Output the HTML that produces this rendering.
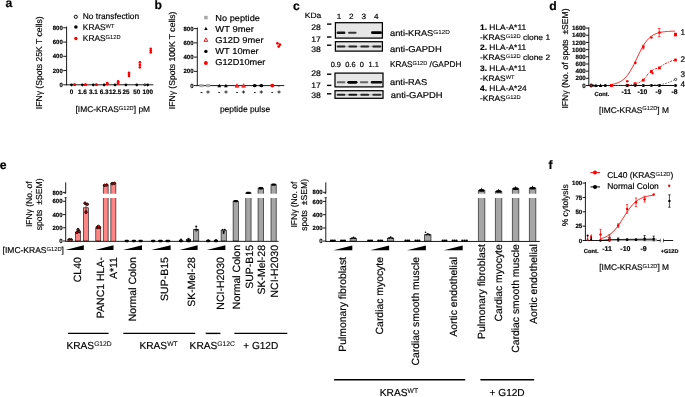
<!DOCTYPE html>
<html lang="en"><head><meta charset="utf-8"><title>Figure</title>
<style>
html,body{margin:0;padding:0;background:#fff;}
body{width:685px;height:397px;overflow:hidden;}
svg{display:block;font-family:'Liberation Sans', Arial, sans-serif;}
text{stroke:#000;stroke-width:0.18px;}
</style></head><body>
<svg width="685" height="397" viewBox="0 0 685 397" text-rendering="geometricPrecision" style="opacity:0.999">
<text x="5.60" y="7.20" font-size="12.2" font-weight="bold" text-anchor="start" fill="#000" xml:space="preserve">a</text>
<text x="154.50" y="9.30" font-size="12.2" font-weight="bold" text-anchor="start" fill="#000" xml:space="preserve">b</text>
<text x="293.00" y="10.30" font-size="12.2" font-weight="bold" text-anchor="start" fill="#000" xml:space="preserve">c</text>
<text x="549.30" y="10.40" font-size="12.2" font-weight="bold" text-anchor="start" fill="#000" xml:space="preserve">d</text>
<text x="-0.30" y="169.00" font-size="12.2" font-weight="bold" text-anchor="start" fill="#000" xml:space="preserve">e</text>
<text x="548.60" y="169.00" font-size="12.2" font-weight="bold" text-anchor="start" fill="#000" xml:space="preserve">f</text>
<line x1="66.60" y1="26.50" x2="66.60" y2="85.20" stroke="#000" stroke-width="0.9"/>
<line x1="66.20" y1="84.80" x2="153.40" y2="84.80" stroke="#000" stroke-width="0.9"/>
<line x1="63.20" y1="84.80" x2="66.60" y2="84.80" stroke="#000" stroke-width="0.9"/>
<text x="62.80" y="86.90" font-size="6.0" font-weight="bold" text-anchor="end" fill="#000" xml:space="preserve" stroke-width="0.3">0</text>
<line x1="63.20" y1="70.55" x2="66.60" y2="70.55" stroke="#000" stroke-width="0.9"/>
<text x="62.80" y="72.65" font-size="6.0" font-weight="bold" text-anchor="end" fill="#000" xml:space="preserve" stroke-width="0.3">200</text>
<line x1="63.20" y1="56.30" x2="66.60" y2="56.30" stroke="#000" stroke-width="0.9"/>
<text x="62.80" y="58.40" font-size="6.0" font-weight="bold" text-anchor="end" fill="#000" xml:space="preserve" stroke-width="0.3">400</text>
<line x1="63.20" y1="42.05" x2="66.60" y2="42.05" stroke="#000" stroke-width="0.9"/>
<text x="62.80" y="44.15" font-size="6.0" font-weight="bold" text-anchor="end" fill="#000" xml:space="preserve" stroke-width="0.3">600</text>
<line x1="63.20" y1="27.80" x2="66.60" y2="27.80" stroke="#000" stroke-width="0.9"/>
<text x="62.80" y="29.90" font-size="6.0" font-weight="bold" text-anchor="end" fill="#000" xml:space="preserve" stroke-width="0.3">800</text>
<text x="71.50" y="94.00" font-size="6.3" font-weight="bold" text-anchor="middle" fill="#000" xml:space="preserve" stroke-width="0.3">0</text>
<line x1="71.50" y1="84.80" x2="71.50" y2="86.40" stroke="#000" stroke-width="0.6"/>
<text x="82.38" y="94.00" font-size="6.3" font-weight="bold" text-anchor="middle" fill="#000" xml:space="preserve" stroke-width="0.3">1.6</text>
<line x1="82.38" y1="84.80" x2="82.38" y2="86.40" stroke="#000" stroke-width="0.6"/>
<text x="93.26" y="94.00" font-size="6.3" font-weight="bold" text-anchor="middle" fill="#000" xml:space="preserve" stroke-width="0.3">3.1</text>
<line x1="93.26" y1="84.80" x2="93.26" y2="86.40" stroke="#000" stroke-width="0.6"/>
<text x="104.14" y="94.00" font-size="6.3" font-weight="bold" text-anchor="middle" fill="#000" xml:space="preserve" stroke-width="0.3">6.3</text>
<line x1="104.14" y1="84.80" x2="104.14" y2="86.40" stroke="#000" stroke-width="0.6"/>
<text x="115.02" y="94.00" font-size="6.3" font-weight="bold" text-anchor="middle" fill="#000" xml:space="preserve" stroke-width="0.3">12.5</text>
<line x1="115.02" y1="84.80" x2="115.02" y2="86.40" stroke="#000" stroke-width="0.6"/>
<text x="125.90" y="94.00" font-size="6.3" font-weight="bold" text-anchor="middle" fill="#000" xml:space="preserve" stroke-width="0.3">25</text>
<line x1="125.90" y1="84.80" x2="125.90" y2="86.40" stroke="#000" stroke-width="0.6"/>
<text x="136.78" y="94.00" font-size="6.3" font-weight="bold" text-anchor="middle" fill="#000" xml:space="preserve" stroke-width="0.3">50</text>
<line x1="136.78" y1="84.80" x2="136.78" y2="86.40" stroke="#000" stroke-width="0.6"/>
<text x="147.66" y="94.00" font-size="6.3" font-weight="bold" text-anchor="middle" fill="#000" xml:space="preserve" stroke-width="0.3">100</text>
<line x1="147.66" y1="84.80" x2="147.66" y2="86.40" stroke="#000" stroke-width="0.6"/>
<text x="41.90" y="62.80" font-size="8.6" font-weight="normal" text-anchor="middle" fill="#000" transform="rotate(-90 41.90 62.80)" xml:space="preserve">IFNγ (Spots 25K T cells)</text>
<text x="112.80" y="111.80" font-size="8.4" font-weight="normal" text-anchor="middle" fill="#000" xml:space="preserve">[IMC-KRAS<tspan dy="-2.22" font-size="5.71" stroke-width="0.08">G12D</tspan><tspan dy="2.22">] pM</tspan></text>
<circle cx="75.80" cy="16.80" r="1.6" fill="white" stroke="#000" stroke-width="0.95"/>
<circle cx="75.90" cy="27.00" r="1.8" fill="#000" stroke="none" stroke-width="0.5"/>
<circle cx="75.90" cy="38.50" r="1.7" fill="#ff0000" stroke="none" stroke-width="0.5"/>
<text x="82.80" y="19.40" font-size="8.4" font-weight="normal" text-anchor="start" fill="#000" xml:space="preserve">No transfection</text>
<text x="82.80" y="30.10" font-size="8.4" font-weight="normal" text-anchor="start" fill="#000" xml:space="preserve">KRAS<tspan dy="-2.22" font-size="5.71" stroke-width="0.08">WT</tspan></text>
<text x="82.80" y="41.00" font-size="8.4" font-weight="normal" text-anchor="start" fill="#000" xml:space="preserve">KRAS<tspan dy="-2.22" font-size="5.71" stroke-width="0.08">G12D</tspan></text>
<circle cx="71.50" cy="84.80" r="1.4" fill="#000" stroke="none" stroke-width="0.5"/>
<circle cx="74.60" cy="84.80" r="1.3" fill="#ff0000" stroke="none" stroke-width="0.5"/>
<circle cx="74.60" cy="84.80" r="1.3" fill="#ff0000" stroke="none" stroke-width="0.5"/>
<circle cx="74.60" cy="84.80" r="1.3" fill="#ff0000" stroke="none" stroke-width="0.5"/>
<circle cx="82.38" cy="84.80" r="1.4" fill="#000" stroke="none" stroke-width="0.5"/>
<circle cx="85.48" cy="84.80" r="1.3" fill="#ff0000" stroke="none" stroke-width="0.5"/>
<circle cx="85.48" cy="84.80" r="1.3" fill="#ff0000" stroke="none" stroke-width="0.5"/>
<circle cx="85.48" cy="84.80" r="1.3" fill="#ff0000" stroke="none" stroke-width="0.5"/>
<circle cx="93.26" cy="84.80" r="1.4" fill="#000" stroke="none" stroke-width="0.5"/>
<circle cx="96.36" cy="84.80" r="1.3" fill="#ff0000" stroke="none" stroke-width="0.5"/>
<circle cx="96.36" cy="84.80" r="1.3" fill="#ff0000" stroke="none" stroke-width="0.5"/>
<circle cx="96.36" cy="84.80" r="1.3" fill="#ff0000" stroke="none" stroke-width="0.5"/>
<circle cx="104.14" cy="84.80" r="1.4" fill="#000" stroke="none" stroke-width="0.5"/>
<circle cx="107.24" cy="84.09" r="1.3" fill="#ff0000" stroke="none" stroke-width="0.5"/>
<circle cx="107.24" cy="83.52" r="1.3" fill="#ff0000" stroke="none" stroke-width="0.5"/>
<circle cx="107.24" cy="83.02" r="1.3" fill="#ff0000" stroke="none" stroke-width="0.5"/>
<circle cx="115.02" cy="84.80" r="1.4" fill="#000" stroke="none" stroke-width="0.5"/>
<circle cx="118.12" cy="83.38" r="1.3" fill="#ff0000" stroke="none" stroke-width="0.5"/>
<circle cx="118.12" cy="82.31" r="1.3" fill="#ff0000" stroke="none" stroke-width="0.5"/>
<circle cx="118.12" cy="81.24" r="1.3" fill="#ff0000" stroke="none" stroke-width="0.5"/>
<circle cx="125.90" cy="84.80" r="1.4" fill="#000" stroke="none" stroke-width="0.5"/>
<circle cx="129.00" cy="75.89" r="1.3" fill="#ff0000" stroke="none" stroke-width="0.5"/>
<circle cx="129.00" cy="74.11" r="1.3" fill="#ff0000" stroke="none" stroke-width="0.5"/>
<circle cx="129.00" cy="72.69" r="1.3" fill="#ff0000" stroke="none" stroke-width="0.5"/>
<circle cx="136.78" cy="84.80" r="1.4" fill="#000" stroke="none" stroke-width="0.5"/>
<circle cx="139.88" cy="67.34" r="1.3" fill="#ff0000" stroke="none" stroke-width="0.5"/>
<circle cx="139.88" cy="64.85" r="1.3" fill="#ff0000" stroke="none" stroke-width="0.5"/>
<circle cx="139.88" cy="62.36" r="1.3" fill="#ff0000" stroke="none" stroke-width="0.5"/>
<circle cx="147.66" cy="84.80" r="1.4" fill="#000" stroke="none" stroke-width="0.5"/>
<circle cx="150.76" cy="52.38" r="1.3" fill="#ff0000" stroke="none" stroke-width="0.5"/>
<circle cx="150.76" cy="50.60" r="1.3" fill="#ff0000" stroke="none" stroke-width="0.5"/>
<circle cx="150.76" cy="48.82" r="1.3" fill="#ff0000" stroke="none" stroke-width="0.5"/>
<circle cx="144.86" cy="84.80" r="0.95" fill="white" stroke="#000" stroke-width="1.0"/>
<line x1="197.30" y1="27.50" x2="197.30" y2="86.00" stroke="#000" stroke-width="0.9"/>
<line x1="196.90" y1="85.60" x2="284.30" y2="85.60" stroke="#000" stroke-width="0.9"/>
<line x1="193.90" y1="85.60" x2="197.30" y2="85.60" stroke="#000" stroke-width="0.9"/>
<text x="193.50" y="87.70" font-size="6.0" font-weight="bold" text-anchor="end" fill="#000" xml:space="preserve" stroke-width="0.3">0</text>
<line x1="193.90" y1="71.35" x2="197.30" y2="71.35" stroke="#000" stroke-width="0.9"/>
<text x="193.50" y="73.45" font-size="6.0" font-weight="bold" text-anchor="end" fill="#000" xml:space="preserve" stroke-width="0.3">200</text>
<line x1="193.90" y1="57.10" x2="197.30" y2="57.10" stroke="#000" stroke-width="0.9"/>
<text x="193.50" y="59.20" font-size="6.0" font-weight="bold" text-anchor="end" fill="#000" xml:space="preserve" stroke-width="0.3">400</text>
<line x1="193.90" y1="42.85" x2="197.30" y2="42.85" stroke="#000" stroke-width="0.9"/>
<text x="193.50" y="44.95" font-size="6.0" font-weight="bold" text-anchor="end" fill="#000" xml:space="preserve" stroke-width="0.3">600</text>
<line x1="193.90" y1="28.60" x2="197.30" y2="28.60" stroke="#000" stroke-width="0.9"/>
<text x="193.50" y="30.70" font-size="6.0" font-weight="bold" text-anchor="end" fill="#000" xml:space="preserve" stroke-width="0.3">800</text>
<text x="175.40" y="60.40" font-size="8.6" font-weight="normal" text-anchor="middle" fill="#000" transform="rotate(-90 175.40 60.40)" xml:space="preserve">IFNγ (Spots 100K T cells)</text>
<text x="245.00" y="112.20" font-size="8.45" font-weight="normal" text-anchor="middle" fill="#000" xml:space="preserve">peptide pulse</text>
<text x="201.50" y="94.20" font-size="6.0" font-weight="bold" text-anchor="middle" fill="#000" xml:space="preserve" stroke-width="0.3">-</text>
<line x1="201.50" y1="85.60" x2="201.50" y2="87.10" stroke="#000" stroke-width="0.6"/>
<text x="208.10" y="94.20" font-size="6.0" font-weight="bold" text-anchor="middle" fill="#000" xml:space="preserve" stroke-width="0.3">+</text>
<line x1="208.10" y1="85.60" x2="208.10" y2="87.10" stroke="#000" stroke-width="0.6"/>
<text x="219.30" y="94.20" font-size="6.0" font-weight="bold" text-anchor="middle" fill="#000" xml:space="preserve" stroke-width="0.3">-</text>
<line x1="219.30" y1="85.60" x2="219.30" y2="87.10" stroke="#000" stroke-width="0.6"/>
<text x="225.90" y="94.20" font-size="6.0" font-weight="bold" text-anchor="middle" fill="#000" xml:space="preserve" stroke-width="0.3">+</text>
<line x1="225.90" y1="85.60" x2="225.90" y2="87.10" stroke="#000" stroke-width="0.6"/>
<text x="237.00" y="94.20" font-size="6.0" font-weight="bold" text-anchor="middle" fill="#000" xml:space="preserve" stroke-width="0.3">-</text>
<line x1="237.00" y1="85.60" x2="237.00" y2="87.10" stroke="#000" stroke-width="0.6"/>
<text x="243.60" y="94.20" font-size="6.0" font-weight="bold" text-anchor="middle" fill="#000" xml:space="preserve" stroke-width="0.3">+</text>
<line x1="243.60" y1="85.60" x2="243.60" y2="87.10" stroke="#000" stroke-width="0.6"/>
<text x="254.70" y="94.20" font-size="6.0" font-weight="bold" text-anchor="middle" fill="#000" xml:space="preserve" stroke-width="0.3">-</text>
<line x1="254.70" y1="85.60" x2="254.70" y2="87.10" stroke="#000" stroke-width="0.6"/>
<text x="261.30" y="94.20" font-size="6.0" font-weight="bold" text-anchor="middle" fill="#000" xml:space="preserve" stroke-width="0.3">+</text>
<line x1="261.30" y1="85.60" x2="261.30" y2="87.10" stroke="#000" stroke-width="0.6"/>
<text x="272.30" y="94.20" font-size="6.0" font-weight="bold" text-anchor="middle" fill="#000" xml:space="preserve" stroke-width="0.3">-</text>
<line x1="272.30" y1="85.60" x2="272.30" y2="87.10" stroke="#000" stroke-width="0.6"/>
<text x="278.90" y="94.20" font-size="6.0" font-weight="bold" text-anchor="middle" fill="#000" xml:space="preserve" stroke-width="0.3">+</text>
<line x1="278.90" y1="85.60" x2="278.90" y2="87.10" stroke="#000" stroke-width="0.6"/>
<rect x="199.40" y="84.10" width="4.20" height="3.00" fill="#a8a8a8" stroke="none" stroke-width="0.6"/>
<rect x="206.00" y="84.10" width="4.20" height="3.00" fill="#a8a8a8" stroke="none" stroke-width="0.6"/>
<polygon points="219.30,83.71 217.40,87.32 221.20,87.32" fill="#000" stroke="none" stroke-width="0.5"/>
<polygon points="225.90,83.71 224.00,87.32 227.80,87.32" fill="#000" stroke="none" stroke-width="0.5"/>
<polygon points="237.00,83.71 235.10,87.32 238.90,87.32" fill="#ff3030" stroke="#ff0000" stroke-width="0.6"/>
<polygon points="243.60,83.71 241.70,87.32 245.50,87.32" fill="#ff3030" stroke="#ff0000" stroke-width="0.6"/>
<ellipse cx="254.7" cy="85.6" rx="2.1" ry="1.7" fill="#000"/>
<ellipse cx="261.3" cy="85.6" rx="2.1" ry="1.7" fill="#000"/>
<ellipse cx="272.3" cy="85.6" rx="2.2" ry="1.8" fill="#ff0000"/>
<circle cx="277.40" cy="43.30" r="1.4" fill="#ff0000" stroke="none" stroke-width="0.5"/>
<circle cx="279.90" cy="44.70" r="1.4" fill="#ff0000" stroke="none" stroke-width="0.5"/>
<circle cx="278.70" cy="46.60" r="1.4" fill="#ff0000" stroke="none" stroke-width="0.5"/>
<rect x="204.15" y="15.85" width="3.50" height="3.50" fill="#a8a8a8" stroke="none" stroke-width="0.6"/>
<polygon points="205.90,26.68 204.15,30.00 207.65,30.00" fill="#000" stroke="none" stroke-width="0.5"/>
<polygon points="205.90,37.86 204.05,41.38 207.75,41.38" fill="white" stroke="#ff0000" stroke-width="0.9"/>
<circle cx="205.90" cy="51.40" r="1.7" fill="#000" stroke="none" stroke-width="0.5"/>
<circle cx="205.90" cy="63.00" r="1.95" fill="#ff0000" stroke="none" stroke-width="0.5"/>
<text x="215.30" y="21.00" font-size="8.6" font-weight="normal" text-anchor="start" fill="#000" xml:space="preserve" textLength="44.6" lengthAdjust="spacingAndGlyphs">No peptide</text>
<text x="215.30" y="32.00" font-size="8.6" font-weight="normal" text-anchor="start" fill="#000" xml:space="preserve" textLength="38.6" lengthAdjust="spacingAndGlyphs">WT 9mer</text>
<text x="215.30" y="43.00" font-size="8.6" font-weight="normal" text-anchor="start" fill="#000" xml:space="preserve" textLength="48.3" lengthAdjust="spacingAndGlyphs">G12D 9mer</text>
<text x="215.30" y="54.00" font-size="8.6" font-weight="normal" text-anchor="start" fill="#000" xml:space="preserve" textLength="43.4" lengthAdjust="spacingAndGlyphs">WT 10mer</text>
<text x="215.30" y="65.00" font-size="8.6" font-weight="normal" text-anchor="start" fill="#000" xml:space="preserve" textLength="50.1" lengthAdjust="spacingAndGlyphs">G12D10mer</text>
<defs><filter id="bl" x="-20%" y="-100%" width="140%" height="300%"><feGaussianBlur stdDeviation="0.7 0.6"/></filter></defs>
<text transform="translate(304.80 18.10) scale(1.1 1)" font-size="7.7" font-weight="normal" text-anchor="start" fill="#000" xml:space="preserve">KDa</text>
<text transform="translate(339.00 18.60) scale(1.08 1)" font-size="7.6" font-weight="normal" text-anchor="middle" fill="#000" xml:space="preserve">1</text>
<text transform="translate(351.40 18.60) scale(1.08 1)" font-size="7.6" font-weight="normal" text-anchor="middle" fill="#000" xml:space="preserve">2</text>
<text transform="translate(363.90 18.60) scale(1.08 1)" font-size="7.6" font-weight="normal" text-anchor="middle" fill="#000" xml:space="preserve">3</text>
<text transform="translate(376.20 18.60) scale(1.08 1)" font-size="7.6" font-weight="normal" text-anchor="middle" fill="#000" xml:space="preserve">4</text>
<rect x="335.40" y="22.70" width="47.00" height="15.40" fill="#e6e6e6" stroke="#000" stroke-width="1.25"/>
<rect x="336.60" y="31.50" width="8.80" height="2.40" rx="1.20" fill="rgb(20,20,20)" filter="url(#bl)"/>
<rect x="348.00" y="31.65" width="8.60" height="2.10" rx="1.05" fill="rgb(56,56,56)" filter="url(#bl)"/>
<rect x="371.00" y="31.30" width="11.00" height="2.80" rx="1.40" fill="rgb(0,0,0)" filter="url(#bl)"/>
<rect x="335.40" y="41.70" width="47.00" height="9.40" fill="#e6e6e6" stroke="#000" stroke-width="1.25"/>
<rect x="336.00" y="45.70" width="46.00" height="1.60" rx="0.80" fill="rgb(191,191,191)" filter="url(#bl)"/>
<rect x="336.80" y="45.45" width="8.60" height="2.10" rx="1.05" fill="rgb(38,38,38)" filter="url(#bl)"/>
<rect x="348.30" y="45.45" width="8.90" height="2.10" rx="1.05" fill="rgb(38,38,38)" filter="url(#bl)"/>
<rect x="360.30" y="45.45" width="8.90" height="2.10" rx="1.05" fill="rgb(38,38,38)" filter="url(#bl)"/>
<rect x="372.30" y="45.45" width="9.10" height="2.10" rx="1.05" fill="rgb(38,38,38)" filter="url(#bl)"/>
<rect x="335.00" y="73.10" width="48.00" height="13.80" fill="#e6e6e6" stroke="#000" stroke-width="1.25"/>
<rect x="336.80" y="81.30" width="8.60" height="2.00" rx="1.00" fill="rgb(102,102,102)" filter="url(#bl)"/>
<rect x="347.30" y="80.90" width="10.20" height="2.80" rx="1.40" fill="rgb(0,0,0)" filter="url(#bl)"/>
<rect x="359.80" y="81.35" width="8.50" height="1.90" rx="0.95" fill="rgb(102,102,102)" filter="url(#bl)"/>
<rect x="370.80" y="81.00" width="11.40" height="2.60" rx="1.30" fill="rgb(7,7,7)" filter="url(#bl)"/>
<rect x="335.00" y="90.70" width="48.00" height="7.60" fill="#e6e6e6" stroke="#000" stroke-width="1.25"/>
<rect x="336.00" y="94.00" width="46.00" height="1.60" rx="0.80" fill="rgb(191,191,191)" filter="url(#bl)"/>
<rect x="336.80" y="93.75" width="8.60" height="2.10" rx="1.05" fill="rgb(38,38,38)" filter="url(#bl)"/>
<rect x="348.30" y="93.75" width="8.90" height="2.10" rx="1.05" fill="rgb(25,25,25)" filter="url(#bl)"/>
<rect x="360.30" y="93.75" width="8.90" height="2.10" rx="1.05" fill="rgb(38,38,38)" filter="url(#bl)"/>
<rect x="372.30" y="93.75" width="9.10" height="2.10" rx="1.05" fill="rgb(50,50,50)" filter="url(#bl)"/>
<text transform="translate(320.80 29.80) scale(1.08 1)" font-size="8.0" font-weight="normal" text-anchor="end" fill="#000" xml:space="preserve">28</text>
<line x1="327.00" y1="24.10" x2="331.40" y2="24.10" stroke="#000" stroke-width="1.4"/>
<text transform="translate(320.80 41.70) scale(1.08 1)" font-size="8.0" font-weight="normal" text-anchor="end" fill="#000" xml:space="preserve">17</text>
<line x1="327.00" y1="37.00" x2="331.40" y2="37.00" stroke="#000" stroke-width="1.4"/>
<text transform="translate(320.80 51.60) scale(1.08 1)" font-size="8.0" font-weight="normal" text-anchor="end" fill="#000" xml:space="preserve">38</text>
<line x1="327.00" y1="45.20" x2="331.40" y2="45.20" stroke="#000" stroke-width="1.4"/>
<text transform="translate(320.80 76.10) scale(1.08 1)" font-size="8.0" font-weight="normal" text-anchor="end" fill="#000" xml:space="preserve">28</text>
<line x1="327.00" y1="74.20" x2="331.40" y2="74.20" stroke="#000" stroke-width="1.4"/>
<text transform="translate(320.80 88.10) scale(1.08 1)" font-size="8.0" font-weight="normal" text-anchor="end" fill="#000" xml:space="preserve">17</text>
<line x1="327.00" y1="85.40" x2="331.40" y2="85.40" stroke="#000" stroke-width="1.4"/>
<text transform="translate(320.80 98.20) scale(1.08 1)" font-size="8.0" font-weight="normal" text-anchor="end" fill="#000" xml:space="preserve">38</text>
<line x1="327.00" y1="93.80" x2="331.40" y2="93.80" stroke="#000" stroke-width="1.4"/>
<text transform="translate(390.00 35.50) scale(1.09 1)" font-size="8.5" font-weight="normal" text-anchor="start" fill="#000" xml:space="preserve">anti-KRAS<tspan dy="-1.85" font-size="5.78" stroke-width="0.08">G12D</tspan></text>
<text transform="translate(390.00 51.80) scale(1.105 1)" font-size="8.5" font-weight="normal" text-anchor="start" fill="#000" xml:space="preserve">anti-GAPDH</text>
<text transform="translate(390.00 66.90) scale(1.0 1)" font-size="8.3" font-weight="normal" text-anchor="start" fill="#000" xml:space="preserve">KRAS<tspan dy="-1.80" font-size="5.64" stroke-width="0.08">G12D</tspan><tspan dy="1.80"> /GAPDH</tspan></text>
<text transform="translate(390.00 84.70) scale(1.09 1)" font-size="8.5" font-weight="normal" text-anchor="start" fill="#000" xml:space="preserve">anti-RAS</text>
<text transform="translate(390.80 97.80) scale(1.105 1)" font-size="8.5" font-weight="normal" text-anchor="start" fill="#000" xml:space="preserve">anti-GAPDH</text>
<text transform="translate(335.80 67.10) scale(1.0 1)" font-size="7.4" font-weight="normal" text-anchor="middle" fill="#000" xml:space="preserve">0.9</text>
<text transform="translate(350.40 67.10) scale(1.0 1)" font-size="7.4" font-weight="normal" text-anchor="middle" fill="#000" xml:space="preserve">0.6</text>
<text transform="translate(361.80 67.10) scale(1.0 1)" font-size="7.4" font-weight="normal" text-anchor="middle" fill="#000" xml:space="preserve">0</text>
<text transform="translate(373.70 67.10) scale(1.0 1)" font-size="7.4" font-weight="normal" text-anchor="middle" fill="#000" xml:space="preserve">1.1</text>
<text transform="translate(480.00 29.60) scale(1.065 1)" font-size="7.9" font-weight="normal" text-anchor="start" fill="#000" xml:space="preserve"><tspan font-weight="bold">1.</tspan> HLA-A*11</text>
<text transform="translate(480.00 39.70) scale(1.065 1)" font-size="7.9" font-weight="normal" text-anchor="start" fill="#000" xml:space="preserve">-KRAS<tspan dy="-1.71" font-size="5.37" stroke-width="0.08">G12D</tspan><tspan dy="1.71"> clone 1</tspan></text>
<text transform="translate(480.00 50.30) scale(1.065 1)" font-size="7.9" font-weight="normal" text-anchor="start" fill="#000" xml:space="preserve"><tspan font-weight="bold">2.</tspan> HLA-A*11</text>
<text transform="translate(480.00 60.20) scale(1.065 1)" font-size="7.9" font-weight="normal" text-anchor="start" fill="#000" xml:space="preserve">-KRAS<tspan dy="-1.71" font-size="5.37" stroke-width="0.08">G12D</tspan><tspan dy="1.71"> clone 2</tspan></text>
<text transform="translate(480.00 70.70) scale(1.065 1)" font-size="7.9" font-weight="normal" text-anchor="start" fill="#000" xml:space="preserve"><tspan font-weight="bold">3.</tspan> HLA-A*11</text>
<text transform="translate(480.00 80.80) scale(1.065 1)" font-size="7.9" font-weight="normal" text-anchor="start" fill="#000" xml:space="preserve">-KRAS<tspan dy="-1.71" font-size="5.37" stroke-width="0.08">WT</tspan></text>
<text transform="translate(480.00 91.00) scale(1.065 1)" font-size="7.9" font-weight="normal" text-anchor="start" fill="#000" xml:space="preserve"><tspan font-weight="bold">4.</tspan> HLA-A*24</text>
<text transform="translate(480.00 101.10) scale(1.065 1)" font-size="7.9" font-weight="normal" text-anchor="start" fill="#000" xml:space="preserve">-KRAS<tspan dy="-1.71" font-size="5.37" stroke-width="0.08">G12D</tspan></text>
<line x1="588.80" y1="27.30" x2="588.80" y2="85.90" stroke="#000" stroke-width="0.9"/>
<line x1="588.40" y1="85.50" x2="676.60" y2="85.50" stroke="#000" stroke-width="0.9"/>
<line x1="586.00" y1="85.50" x2="588.80" y2="85.50" stroke="#000" stroke-width="0.9"/>
<text x="585.80" y="87.60" font-size="6.2" font-weight="bold" text-anchor="end" fill="#000" xml:space="preserve" stroke-width="0.3">0</text>
<line x1="586.00" y1="78.33" x2="588.80" y2="78.33" stroke="#000" stroke-width="0.9"/>
<text x="585.80" y="80.42" font-size="6.2" font-weight="bold" text-anchor="end" fill="#000" xml:space="preserve" stroke-width="0.3">200</text>
<line x1="586.00" y1="71.15" x2="588.80" y2="71.15" stroke="#000" stroke-width="0.9"/>
<text x="585.80" y="73.25" font-size="6.2" font-weight="bold" text-anchor="end" fill="#000" xml:space="preserve" stroke-width="0.3">400</text>
<line x1="586.00" y1="63.98" x2="588.80" y2="63.98" stroke="#000" stroke-width="0.9"/>
<text x="585.80" y="66.08" font-size="6.2" font-weight="bold" text-anchor="end" fill="#000" xml:space="preserve" stroke-width="0.3">600</text>
<line x1="586.00" y1="56.80" x2="588.80" y2="56.80" stroke="#000" stroke-width="0.9"/>
<text x="585.80" y="58.90" font-size="6.2" font-weight="bold" text-anchor="end" fill="#000" xml:space="preserve" stroke-width="0.3">800</text>
<line x1="586.00" y1="49.62" x2="588.80" y2="49.62" stroke="#000" stroke-width="0.9"/>
<text x="585.80" y="51.73" font-size="6.2" font-weight="bold" text-anchor="end" fill="#000" xml:space="preserve" stroke-width="0.3">1000</text>
<line x1="586.00" y1="42.45" x2="588.80" y2="42.45" stroke="#000" stroke-width="0.9"/>
<text x="585.80" y="44.55" font-size="6.2" font-weight="bold" text-anchor="end" fill="#000" xml:space="preserve" stroke-width="0.3">1200</text>
<line x1="586.00" y1="35.28" x2="588.80" y2="35.28" stroke="#000" stroke-width="0.9"/>
<text x="585.80" y="37.38" font-size="6.2" font-weight="bold" text-anchor="end" fill="#000" xml:space="preserve" stroke-width="0.3">1400</text>
<line x1="586.00" y1="28.10" x2="588.80" y2="28.10" stroke="#000" stroke-width="0.9"/>
<text x="585.80" y="30.20" font-size="6.2" font-weight="bold" text-anchor="end" fill="#000" xml:space="preserve" stroke-width="0.3">1600</text>
<text x="568.20" y="58.50" font-size="8.6" font-weight="normal" text-anchor="middle" fill="#000" transform="rotate(-90 568.20 58.50)" xml:space="preserve">IFNγ (No. of spots  ±SEM)</text>
<text x="634.00" y="112.60" font-size="8.4" font-weight="normal" text-anchor="middle" fill="#000" xml:space="preserve">[IMC-KRAS<tspan dy="-2.22" font-size="5.71" stroke-width="0.08">G12D</tspan><tspan dy="2.22">] M</tspan></text>
<text x="601.90" y="96.20" font-size="5.8" font-weight="bold" text-anchor="middle" fill="#000" xml:space="preserve" stroke-width="0.3">Cont.</text>
<text x="626.30" y="93.80" font-size="6.8" font-weight="bold" text-anchor="middle" fill="#000" xml:space="preserve" stroke-width="0.3">-11</text>
<line x1="626.60" y1="85.50" x2="626.60" y2="87.10" stroke="#000" stroke-width="0.6"/>
<text x="642.40" y="93.80" font-size="6.8" font-weight="bold" text-anchor="middle" fill="#000" xml:space="preserve" stroke-width="0.3">-10</text>
<line x1="642.70" y1="85.50" x2="642.70" y2="87.10" stroke="#000" stroke-width="0.6"/>
<text x="658.50" y="93.80" font-size="6.8" font-weight="bold" text-anchor="middle" fill="#000" xml:space="preserve" stroke-width="0.3">-9</text>
<line x1="658.80" y1="85.50" x2="658.80" y2="87.10" stroke="#000" stroke-width="0.6"/>
<text x="674.60" y="93.80" font-size="6.8" font-weight="bold" text-anchor="middle" fill="#000" xml:space="preserve" stroke-width="0.3">-8</text>
<line x1="674.90" y1="85.50" x2="674.90" y2="87.10" stroke="#000" stroke-width="0.6"/>
<line x1="611.40" y1="85.50" x2="675.50" y2="85.50" stroke="#000" stroke-width="0.9"/>
<path d="M612.11 85.50 L612.92 85.50 L613.72 85.50 L614.53 85.50 L615.33 85.50 L616.13 85.50 L616.94 85.50 L617.75 85.50 L618.55 85.50 L619.36 85.50 L620.16 85.50 L620.97 85.50 L621.77 85.50 L622.58 85.50 L623.38 85.49 L624.19 85.49 L624.99 85.49 L625.80 85.49 L626.60 85.49 L627.41 85.49 L628.21 85.49 L629.02 85.49 L629.82 85.49 L630.62 85.48 L631.43 85.48 L632.24 85.48 L633.04 85.48 L633.85 85.48 L634.65 85.47 L635.46 85.47 L636.26 85.47 L637.07 85.46 L637.87 85.46 L638.68 85.45 L639.48 85.45 L640.29 85.44 L641.09 85.43 L641.89 85.42 L642.70 85.41 L643.51 85.40 L644.31 85.39 L645.12 85.38 L645.92 85.37 L646.73 85.35 L647.53 85.33 L648.34 85.31 L649.14 85.29 L649.95 85.26 L650.75 85.23 L651.56 85.20 L652.36 85.16 L653.17 85.12 L653.97 85.08 L654.78 85.03 L655.58 84.97 L656.38 84.91 L657.19 84.84 L658.00 84.76 L658.80 84.68 L659.61 84.58 L660.41 84.47 L661.22 84.35 L662.02 84.22 L662.83 84.08 L663.63 83.92 L664.44 83.74 L665.24 83.54 L666.05 83.33 L666.85 83.09 L667.66 82.84 L668.46 82.56 L669.27 82.25 L670.07 81.92 L670.88 81.56 L671.68 81.18 L672.49 80.77 L673.29 80.33 L674.10 79.86 L674.90 79.37" stroke="#000" stroke-width="0.6" fill="none" stroke-dasharray="1.6 1.2"/>
<path d="M611.40 85.50 C614.86 85.49 616.70 85.54 621.77 85.46 C626.84 85.39 622.31 85.83 626.60 85.28 C630.89 84.73 629.28 85.54 634.65 83.81 C640.02 82.09 637.33 84.26 642.70 80.12 C648.07 75.98 645.38 75.59 650.75 71.40 C656.12 67.22 653.43 70.40 658.80 67.56 C664.17 64.73 661.48 65.43 666.85 62.90 C672.22 60.36 672.22 60.94 674.90 59.96" stroke="#ff0000" stroke-width="0.95" fill="none" stroke-dasharray="2.4 1.1 0.9 1.1"/>
<path d="M612.11 84.34 L612.92 84.19 L613.72 84.02 L614.53 83.83 L615.33 83.62 L616.13 83.38 L616.94 83.11 L617.75 82.81 L618.55 82.48 L619.36 82.10 L620.16 81.68 L620.97 81.22 L621.77 80.70 L622.58 80.13 L623.38 79.49 L624.19 78.79 L624.99 78.03 L625.80 77.19 L626.60 76.28 L627.41 75.28 L628.21 74.21 L629.02 73.06 L629.82 71.82 L630.62 70.51 L631.43 69.12 L632.24 67.66 L633.04 66.14 L633.85 64.56 L634.65 62.93 L635.46 61.27 L636.26 59.59 L637.07 57.90 L637.87 56.20 L638.68 54.53 L639.48 52.88 L640.29 51.27 L641.09 49.72 L641.89 48.22 L642.70 46.79 L643.51 45.43 L644.31 44.14 L645.12 42.94 L645.92 41.82 L646.73 40.78 L647.53 39.82 L648.34 38.94 L649.14 38.13 L649.95 37.39 L650.75 36.72 L651.56 36.11 L652.36 35.56 L653.17 35.06 L653.97 34.62 L654.78 34.21 L655.58 33.86 L656.38 33.53 L657.19 33.25 L658.00 32.99 L658.80 32.76 L659.61 32.56 L660.41 32.38 L661.22 32.22 L662.02 32.07 L662.83 31.95 L663.63 31.83 L664.44 31.74 L665.24 31.65 L666.05 31.57 L666.85 31.50 L667.66 31.44 L668.46 31.38 L669.27 31.34 L670.07 31.29 L670.88 31.26 L671.68 31.22 L672.49 31.19 L673.29 31.17 L674.10 31.14 L674.90 31.12" stroke="#ff0000" stroke-width="0.9" fill="none"/>
<circle cx="627.30" cy="81.30" r="1.3" fill="#ff0000" stroke="none" stroke-width="0.5"/>
<circle cx="635.35" cy="62.90" r="1.3" fill="#ff0000" stroke="none" stroke-width="0.5"/>
<circle cx="643.40" cy="47.11" r="1.3" fill="#ff0000" stroke="none" stroke-width="0.5"/>
<circle cx="651.45" cy="37.43" r="1.3" fill="#ff0000" stroke="none" stroke-width="0.5"/>
<circle cx="659.50" cy="32.58" r="1.3" fill="#ff0000" stroke="none" stroke-width="0.5"/>
<circle cx="675.60" cy="34.56" r="1.3" fill="#ff0000" stroke="none" stroke-width="0.5"/>
<line x1="659.20" y1="36.71" x2="659.20" y2="28.46" stroke="#ff0000" stroke-width="0.7"/>
<line x1="657.90" y1="36.71" x2="660.50" y2="36.71" stroke="#ff0000" stroke-width="0.7"/>
<line x1="657.90" y1="28.46" x2="660.50" y2="28.46" stroke="#ff0000" stroke-width="0.7"/>
<line x1="643.10" y1="48.91" x2="643.10" y2="45.32" stroke="#ff0000" stroke-width="0.7"/>
<line x1="641.80" y1="48.91" x2="644.40" y2="48.91" stroke="#ff0000" stroke-width="0.7"/>
<line x1="641.80" y1="45.32" x2="644.40" y2="45.32" stroke="#ff0000" stroke-width="0.7"/>
<line x1="675.30" y1="35.99" x2="675.30" y2="33.12" stroke="#ff0000" stroke-width="0.7"/>
<line x1="674.00" y1="35.99" x2="676.60" y2="35.99" stroke="#ff0000" stroke-width="0.7"/>
<line x1="674.00" y1="33.12" x2="676.60" y2="33.12" stroke="#ff0000" stroke-width="0.7"/>
<rect x="674.00" y="33.06" width="3.00" height="3.00" fill="#ff0000" stroke="none" stroke-width="0.6"/>
<rect x="625.80" y="83.92" width="2.80" height="2.80" fill="#ff0000" stroke="none" stroke-width="0.6"/>
<rect x="633.85" y="82.31" width="2.80" height="2.80" fill="#ff0000" stroke="none" stroke-width="0.6"/>
<rect x="641.90" y="78.72" width="2.80" height="2.80" fill="#ff0000" stroke="none" stroke-width="0.6"/>
<rect x="649.95" y="70.11" width="2.80" height="2.80" fill="#ff0000" stroke="none" stroke-width="0.6"/>
<rect x="658.00" y="66.52" width="2.80" height="2.80" fill="#ff0000" stroke="none" stroke-width="0.6"/>
<rect x="674.10" y="58.63" width="2.80" height="2.80" fill="#ff0000" stroke="none" stroke-width="0.6"/>
<rect x="651.60" y="72.30" width="2.00" height="2.00" fill="#ff0000" stroke="none" stroke-width="0.6"/>
<rect x="609.90" y="84.00" width="3.00" height="3.00" fill="#ff0000" stroke="none" stroke-width="0.6"/>
<circle cx="626.90" cy="85.50" r="1.1" fill="white" stroke="#000" stroke-width="0.7"/>
<circle cx="627.50" cy="85.60" r="1.25" fill="#000" stroke="none" stroke-width="0.5"/>
<circle cx="634.95" cy="85.50" r="1.1" fill="white" stroke="#000" stroke-width="0.7"/>
<circle cx="635.55" cy="85.60" r="1.25" fill="#000" stroke="none" stroke-width="0.5"/>
<circle cx="643.00" cy="85.50" r="1.1" fill="white" stroke="#000" stroke-width="0.7"/>
<circle cx="643.60" cy="85.60" r="1.25" fill="#000" stroke="none" stroke-width="0.5"/>
<circle cx="651.05" cy="85.50" r="1.1" fill="white" stroke="#000" stroke-width="0.7"/>
<circle cx="651.65" cy="85.60" r="1.25" fill="#000" stroke="none" stroke-width="0.5"/>
<circle cx="659.10" cy="85.50" r="1.1" fill="white" stroke="#000" stroke-width="0.7"/>
<circle cx="659.70" cy="85.60" r="1.25" fill="#000" stroke="none" stroke-width="0.5"/>
<circle cx="675.20" cy="85.50" r="1.1" fill="white" stroke="#000" stroke-width="0.7"/>
<circle cx="675.80" cy="85.60" r="1.25" fill="#000" stroke="none" stroke-width="0.5"/>
<circle cx="675.60" cy="79.40" r="1.1" fill="white" stroke="#000" stroke-width="0.7"/>
<circle cx="591.20" cy="85.50" r="1.5" fill="#ff0000" stroke="#000" stroke-width="0.9"/>
<polygon points="596.00,83.52 594.20,86.94 597.80,86.94" fill="#000" stroke="none" stroke-width="0.5"/>
<polygon points="600.60,83.52 598.80,86.94 602.40,86.94" fill="#000" stroke="none" stroke-width="0.5"/>
<circle cx="605.30" cy="85.50" r="1.6" fill="#000" stroke="none" stroke-width="0.5"/>
<circle cx="593.60" cy="85.50" r="1.0" fill="#000" stroke="none" stroke-width="0.5"/>
<text x="680.60" y="35.20" font-size="8.2" font-weight="normal" text-anchor="start" fill="#000" xml:space="preserve">1</text>
<text x="680.60" y="61.80" font-size="8.2" font-weight="normal" text-anchor="start" fill="#000" xml:space="preserve">2</text>
<text x="680.60" y="76.60" font-size="8.2" font-weight="normal" text-anchor="start" fill="#000" xml:space="preserve">3</text>
<text x="680.60" y="86.70" font-size="8.2" font-weight="normal" text-anchor="start" fill="#000" xml:space="preserve">4</text>
<line x1="65.70" y1="182.40" x2="65.70" y2="193.40" stroke="#000" stroke-width="0.9"/>
<line x1="65.70" y1="197.60" x2="65.70" y2="241.40" stroke="#000" stroke-width="0.9"/>
<line x1="64.50" y1="193.40" x2="65.90" y2="193.40" stroke="#000" stroke-width="0.7"/>
<line x1="64.50" y1="197.60" x2="66.70" y2="197.60" stroke="#000" stroke-width="0.7"/>
<line x1="62.90" y1="241.00" x2="65.70" y2="241.00" stroke="#000" stroke-width="0.9"/>
<text x="62.50" y="243.10" font-size="6.0" font-weight="bold" text-anchor="end" fill="#000" xml:space="preserve" stroke-width="0.3">0</text>
<line x1="62.90" y1="227.80" x2="65.70" y2="227.80" stroke="#000" stroke-width="0.9"/>
<text x="62.50" y="229.90" font-size="6.0" font-weight="bold" text-anchor="end" fill="#000" xml:space="preserve" stroke-width="0.3">200</text>
<line x1="62.90" y1="214.60" x2="65.70" y2="214.60" stroke="#000" stroke-width="0.9"/>
<text x="62.50" y="216.70" font-size="6.0" font-weight="bold" text-anchor="end" fill="#000" xml:space="preserve" stroke-width="0.3">400</text>
<line x1="62.90" y1="201.30" x2="65.70" y2="201.30" stroke="#000" stroke-width="0.9"/>
<text x="62.50" y="203.40" font-size="6.0" font-weight="bold" text-anchor="end" fill="#000" xml:space="preserve" stroke-width="0.3">600</text>
<line x1="62.90" y1="192.40" x2="65.70" y2="192.40" stroke="#000" stroke-width="0.9"/>
<text x="62.50" y="194.50" font-size="6.0" font-weight="bold" text-anchor="end" fill="#000" xml:space="preserve" stroke-width="0.3">800</text>
<text x="32.50" y="204.20" font-size="8.5" font-weight="normal" text-anchor="middle" fill="#000" transform="rotate(-90 32.50 204.20)" xml:space="preserve">IFNγ (No. of</text>
<text x="41.90" y="204.30" font-size="8.7" font-weight="normal" text-anchor="middle" fill="#000" transform="rotate(-90 41.90 204.30)" xml:space="preserve">spots  ±SEM)</text>
<text x="2.60" y="253.20" font-size="8.5" font-weight="normal" text-anchor="start" fill="#000" xml:space="preserve">[IMC-KRAS<tspan dy="-2.25" font-size="5.78" stroke-width="0.08">G12D</tspan><tspan dy="2.25">]</tspan></text>
<rect x="67.80" y="239.60" width="4.70" height="1.40" fill="#ff8585" stroke="#000" stroke-width="0.6"/>
<rect x="75.50" y="232.60" width="5.00" height="8.40" fill="#ff8585" stroke="#000" stroke-width="0.6"/>
<rect x="83.50" y="207.80" width="4.80" height="33.20" fill="#ff8585" stroke="#000" stroke-width="0.6"/>
<circle cx="69.20" cy="239.30" r="0.9" fill="#d80000" stroke="#000" stroke-width="0.85"/>
<circle cx="71.20" cy="239.30" r="0.9" fill="#d80000" stroke="#000" stroke-width="0.85"/>
<circle cx="76.90" cy="232.40" r="1.25" fill="#d80000" stroke="#000" stroke-width="0.85"/>
<circle cx="79.20" cy="231.60" r="1.25" fill="#d80000" stroke="#000" stroke-width="0.85"/>
<circle cx="78.00" cy="229.60" r="1.25" fill="#d80000" stroke="#000" stroke-width="0.85"/>
<line x1="86.00" y1="204.60" x2="86.00" y2="210.80" stroke="#000" stroke-width="0.6"/>
<line x1="84.80" y1="204.60" x2="87.20" y2="204.60" stroke="#000" stroke-width="0.6"/>
<line x1="84.80" y1="210.80" x2="87.20" y2="210.80" stroke="#000" stroke-width="0.6"/>
<circle cx="85.00" cy="203.20" r="1.25" fill="#d80000" stroke="#000" stroke-width="0.85"/>
<circle cx="87.30" cy="204.30" r="1.25" fill="#d80000" stroke="#000" stroke-width="0.85"/>
<circle cx="86.00" cy="212.30" r="1.25" fill="#d80000" stroke="#000" stroke-width="0.85"/>
<rect x="95.80" y="227.90" width="5.00" height="13.10" fill="#ff8585" stroke="#000" stroke-width="0.6"/>
<rect x="103.40" y="198.00" width="4.80" height="43.00" fill="#ff8585" stroke="none" stroke-width="0.6"/>
<line x1="103.40" y1="198.00" x2="103.40" y2="241.00" stroke="#000" stroke-width="0.6"/>
<line x1="108.20" y1="198.00" x2="108.20" y2="241.00" stroke="#000" stroke-width="0.6"/>
<rect x="103.40" y="185.30" width="4.80" height="8.40" fill="#ff8585" stroke="none" stroke-width="0.6"/>
<line x1="103.40" y1="185.30" x2="103.40" y2="193.70" stroke="#000" stroke-width="0.6"/>
<line x1="108.20" y1="185.30" x2="108.20" y2="193.70" stroke="#000" stroke-width="0.6"/>
<line x1="103.10" y1="185.30" x2="108.50" y2="185.30" stroke="#000" stroke-width="0.6"/>
<rect x="110.80" y="198.00" width="5.00" height="43.00" fill="#ff8585" stroke="none" stroke-width="0.6"/>
<line x1="110.80" y1="198.00" x2="110.80" y2="241.00" stroke="#000" stroke-width="0.6"/>
<line x1="115.80" y1="198.00" x2="115.80" y2="241.00" stroke="#000" stroke-width="0.6"/>
<rect x="110.80" y="183.50" width="5.00" height="10.20" fill="#ff8585" stroke="none" stroke-width="0.6"/>
<line x1="110.80" y1="183.50" x2="110.80" y2="193.70" stroke="#000" stroke-width="0.6"/>
<line x1="115.80" y1="183.50" x2="115.80" y2="193.70" stroke="#000" stroke-width="0.6"/>
<line x1="110.50" y1="183.50" x2="116.10" y2="183.50" stroke="#000" stroke-width="0.6"/>
<circle cx="97.30" cy="227.40" r="1.25" fill="#d80000" stroke="#000" stroke-width="0.85"/>
<circle cx="99.50" cy="227.40" r="1.25" fill="#d80000" stroke="#000" stroke-width="0.85"/>
<circle cx="98.40" cy="226.40" r="1.25" fill="#d80000" stroke="#000" stroke-width="0.85"/>
<circle cx="104.60" cy="185.30" r="1.25" fill="#d80000" stroke="#000" stroke-width="0.85"/>
<circle cx="106.70" cy="185.00" r="1.25" fill="#d80000" stroke="#000" stroke-width="0.85"/>
<circle cx="112.20" cy="183.60" r="1.25" fill="#d80000" stroke="#000" stroke-width="0.85"/>
<circle cx="114.40" cy="183.30" r="1.25" fill="#d80000" stroke="#000" stroke-width="0.85"/>
<rect x="124.60" y="239.75" width="4.30" height="2.40" fill="#000" stroke="none" stroke-width="0.6" rx="1.1"/>
<rect x="131.70" y="239.75" width="4.30" height="2.40" fill="#000" stroke="none" stroke-width="0.6" rx="1.1"/>
<rect x="138.50" y="239.75" width="4.30" height="2.40" fill="#000" stroke="none" stroke-width="0.6" rx="1.1"/>
<rect x="151.00" y="239.75" width="4.40" height="2.40" fill="#000" stroke="none" stroke-width="0.6" rx="1.1"/>
<rect x="158.10" y="239.75" width="4.70" height="2.40" fill="#000" stroke="none" stroke-width="0.6" rx="1.1"/>
<rect x="165.40" y="239.75" width="4.90" height="2.40" fill="#000" stroke="none" stroke-width="0.6" rx="1.1"/>
<rect x="178.90" y="239.75" width="4.30" height="2.40" fill="#000" stroke="none" stroke-width="0.6" rx="1.1"/>
<rect x="179.60" y="240.20" width="3.00" height="0.80" fill="#a6a6a6" stroke="#000" stroke-width="0.6"/>
<circle cx="181.00" cy="239.60" r="1.0" fill="#000" stroke="none" stroke-width="0.5"/>
<rect x="186.40" y="239.60" width="4.30" height="1.40" fill="#a6a6a6" stroke="#000" stroke-width="0.6"/>
<circle cx="188.50" cy="238.80" r="1.1" fill="#000" stroke="none" stroke-width="0.5"/>
<rect x="186.40" y="239.75" width="4.30" height="2.40" fill="#000" stroke="none" stroke-width="0.6" rx="1.1"/>
<rect x="193.50" y="229.70" width="5.30" height="11.30" fill="#a6a6a6" stroke="#000" stroke-width="0.6"/>
<circle cx="195.40" cy="229.60" r="0.95" fill="#000" stroke="none" stroke-width="0.5"/>
<circle cx="197.20" cy="229.80" r="0.95" fill="#000" stroke="none" stroke-width="0.5"/>
<circle cx="196.20" cy="226.40" r="0.95" fill="#000" stroke="none" stroke-width="0.5"/>
<line x1="196.20" y1="227.20" x2="196.20" y2="232.00" stroke="#000" stroke-width="0.6"/>
<rect x="206.10" y="239.75" width="4.30" height="2.40" fill="#000" stroke="none" stroke-width="0.6" rx="1.1"/>
<rect x="213.80" y="239.75" width="4.30" height="2.40" fill="#000" stroke="none" stroke-width="0.6" rx="1.1"/>
<circle cx="208.20" cy="240.20" r="1.0" fill="#000" stroke="none" stroke-width="0.5"/>
<circle cx="216.00" cy="240.00" r="1.0" fill="#000" stroke="none" stroke-width="0.5"/>
<rect x="221.10" y="230.20" width="5.30" height="10.80" fill="#a6a6a6" stroke="#000" stroke-width="0.6"/>
<circle cx="222.60" cy="229.60" r="0.95" fill="#000" stroke="none" stroke-width="0.5"/>
<circle cx="224.80" cy="229.60" r="0.95" fill="#000" stroke="none" stroke-width="0.5"/>
<circle cx="223.70" cy="231.60" r="0.95" fill="#000" stroke="none" stroke-width="0.5"/>
<circle cx="223.60" cy="233.00" r="0.95" fill="#000" stroke="none" stroke-width="0.5"/>
<rect x="233.10" y="201.20" width="5.30" height="39.80" fill="#a6a6a6" stroke="#000" stroke-width="0.6"/>
<rect x="233.40" y="199.90" width="4.70" height="2.30" fill="#000" stroke="none" stroke-width="0.6" rx="1.1"/>
<rect x="245.70" y="198.00" width="5.40" height="43.00" fill="#a6a6a6" stroke="none" stroke-width="0.6"/>
<line x1="245.70" y1="198.00" x2="245.70" y2="241.00" stroke="#000" stroke-width="0.6"/>
<line x1="251.10" y1="198.00" x2="251.10" y2="241.00" stroke="#000" stroke-width="0.6"/>
<rect x="245.70" y="193.00" width="5.40" height="0.70" fill="#a6a6a6" stroke="none" stroke-width="0.6"/>
<line x1="245.70" y1="193.00" x2="245.70" y2="193.70" stroke="#000" stroke-width="0.6"/>
<line x1="251.10" y1="193.00" x2="251.10" y2="193.70" stroke="#000" stroke-width="0.6"/>
<line x1="245.40" y1="193.00" x2="251.40" y2="193.00" stroke="#000" stroke-width="0.6"/>
<rect x="246.00" y="191.70" width="4.80" height="2.30" fill="#000" stroke="none" stroke-width="0.6" rx="1.1"/>
<rect x="258.10" y="198.00" width="5.40" height="43.00" fill="#a6a6a6" stroke="none" stroke-width="0.6"/>
<line x1="258.10" y1="198.00" x2="258.10" y2="241.00" stroke="#000" stroke-width="0.6"/>
<line x1="263.50" y1="198.00" x2="263.50" y2="241.00" stroke="#000" stroke-width="0.6"/>
<rect x="258.10" y="188.40" width="5.40" height="5.30" fill="#a6a6a6" stroke="none" stroke-width="0.6"/>
<line x1="258.10" y1="188.40" x2="258.10" y2="193.70" stroke="#000" stroke-width="0.6"/>
<line x1="263.50" y1="188.40" x2="263.50" y2="193.70" stroke="#000" stroke-width="0.6"/>
<line x1="257.80" y1="188.40" x2="263.80" y2="188.40" stroke="#000" stroke-width="0.6"/>
<rect x="258.40" y="187.10" width="4.80" height="2.30" fill="#000" stroke="none" stroke-width="0.6" rx="1.1"/>
<rect x="271.00" y="198.00" width="5.30" height="43.00" fill="#a6a6a6" stroke="none" stroke-width="0.6"/>
<line x1="271.00" y1="198.00" x2="271.00" y2="241.00" stroke="#000" stroke-width="0.6"/>
<line x1="276.30" y1="198.00" x2="276.30" y2="241.00" stroke="#000" stroke-width="0.6"/>
<rect x="271.00" y="184.70" width="5.30" height="9.00" fill="#a6a6a6" stroke="none" stroke-width="0.6"/>
<line x1="271.00" y1="184.70" x2="271.00" y2="193.70" stroke="#000" stroke-width="0.6"/>
<line x1="276.30" y1="184.70" x2="276.30" y2="193.70" stroke="#000" stroke-width="0.6"/>
<line x1="270.70" y1="184.70" x2="276.60" y2="184.70" stroke="#000" stroke-width="0.6"/>
<rect x="271.30" y="183.40" width="4.70" height="2.30" fill="#000" stroke="none" stroke-width="0.6" rx="1.1"/>
<line x1="65.30" y1="241.35" x2="278.60" y2="241.35" stroke="#000" stroke-width="0.9"/>
<polygon points="65.40,249.90 83.80,249.90 83.80,245.20" fill="#000" stroke="none" stroke-width="0.5"/>
<polygon points="95.10,249.90 113.50,249.90 113.50,245.20" fill="#000" stroke="none" stroke-width="0.5"/>
<polygon points="123.10,249.90 142.00,249.90 142.00,245.20" fill="#000" stroke="none" stroke-width="0.5"/>
<polygon points="151.30,249.90 170.60,249.90 170.60,245.20" fill="#000" stroke="none" stroke-width="0.5"/>
<polygon points="179.70,249.90 197.60,249.90 197.60,245.20" fill="#000" stroke="none" stroke-width="0.5"/>
<polygon points="206.80,249.90 225.40,249.90 225.40,245.20" fill="#000" stroke="none" stroke-width="0.5"/>
<text x="81.00" y="257.10" font-size="10.5" font-weight="normal" text-anchor="end" fill="#000" transform="rotate(-90 81.00 257.10)" xml:space="preserve">CL40</text>
<text x="104.30" y="257.10" font-size="10.5" font-weight="normal" text-anchor="end" fill="#000" transform="rotate(-90 104.30 257.10)" xml:space="preserve">PANC1 HLA-</text>
<text x="117.00" y="257.10" font-size="10.5" font-weight="normal" text-anchor="end" fill="#000" transform="rotate(-90 117.00 257.10)" xml:space="preserve">A*11</text>
<text x="136.00" y="257.10" font-size="10.5" font-weight="normal" text-anchor="end" fill="#000" transform="rotate(-90 136.00 257.10)" xml:space="preserve">Normal Colon</text>
<text x="168.00" y="257.10" font-size="10.5" font-weight="normal" text-anchor="end" fill="#000" transform="rotate(-90 168.00 257.10)" xml:space="preserve">SUP-B15</text>
<text x="195.10" y="257.10" font-size="10.5" font-weight="normal" text-anchor="end" fill="#000" transform="rotate(-90 195.10 257.10)" xml:space="preserve">SK-Mel-28</text>
<text x="224.00" y="257.10" font-size="10.5" font-weight="normal" text-anchor="end" fill="#000" transform="rotate(-90 224.00 257.10)" xml:space="preserve">NCI-H2030</text>
<text x="240.00" y="245.00" font-size="10.5" font-weight="normal" text-anchor="end" fill="#000" transform="rotate(-90 240.00 245.00)" xml:space="preserve">Normal Colon</text>
<text x="253.20" y="245.00" font-size="10.5" font-weight="normal" text-anchor="end" fill="#000" transform="rotate(-90 253.20 245.00)" xml:space="preserve">SUP-B15</text>
<text x="265.00" y="245.00" font-size="10.5" font-weight="normal" text-anchor="end" fill="#000" transform="rotate(-90 265.00 245.00)" xml:space="preserve">SK-Mel-28</text>
<text x="278.10" y="245.00" font-size="10.5" font-weight="normal" text-anchor="end" fill="#000" transform="rotate(-90 278.10 245.00)" xml:space="preserve">NCI-H2030</text>
<line x1="68.00" y1="333.40" x2="108.60" y2="333.40" stroke="#000" stroke-width="1.4"/>
<line x1="123.30" y1="333.40" x2="195.20" y2="333.40" stroke="#000" stroke-width="1.4"/>
<line x1="205.70" y1="333.40" x2="220.40" y2="333.40" stroke="#000" stroke-width="1.4"/>
<line x1="234.40" y1="333.40" x2="287.30" y2="333.40" stroke="#000" stroke-width="1.4"/>
<text x="66.40" y="348.80" font-size="10.2" font-weight="normal" text-anchor="start" fill="#000" xml:space="preserve">KRAS<tspan dy="-2.78" font-size="6.73" stroke-width="0.08">G12D</tspan></text>
<text x="139.40" y="348.80" font-size="10.2" font-weight="normal" text-anchor="start" fill="#000" xml:space="preserve">KRAS<tspan dy="-2.78" font-size="6.73" stroke-width="0.08">WT</tspan></text>
<text x="189.60" y="348.80" font-size="10.2" font-weight="normal" text-anchor="start" fill="#000" xml:space="preserve">KRAS<tspan dy="-2.78" font-size="6.73" stroke-width="0.08">G12C</tspan></text>
<text x="243.20" y="348.80" font-size="10.1" font-weight="normal" text-anchor="start" fill="#000" xml:space="preserve">+ G12D</text>
<line x1="325.80" y1="182.40" x2="325.80" y2="193.40" stroke="#000" stroke-width="0.9"/>
<line x1="325.80" y1="197.60" x2="325.80" y2="241.50" stroke="#000" stroke-width="0.9"/>
<line x1="324.60" y1="193.40" x2="326.00" y2="193.40" stroke="#000" stroke-width="0.7"/>
<line x1="324.60" y1="197.60" x2="326.80" y2="197.60" stroke="#000" stroke-width="0.7"/>
<line x1="323.00" y1="241.10" x2="325.80" y2="241.10" stroke="#000" stroke-width="0.9"/>
<text x="322.60" y="243.20" font-size="6.0" font-weight="bold" text-anchor="end" fill="#000" xml:space="preserve" stroke-width="0.3">0</text>
<line x1="323.00" y1="228.00" x2="325.80" y2="228.00" stroke="#000" stroke-width="0.9"/>
<text x="322.60" y="230.10" font-size="6.0" font-weight="bold" text-anchor="end" fill="#000" xml:space="preserve" stroke-width="0.3">200</text>
<line x1="323.00" y1="214.70" x2="325.80" y2="214.70" stroke="#000" stroke-width="0.9"/>
<text x="322.60" y="216.80" font-size="6.0" font-weight="bold" text-anchor="end" fill="#000" xml:space="preserve" stroke-width="0.3">400</text>
<line x1="323.00" y1="201.40" x2="325.80" y2="201.40" stroke="#000" stroke-width="0.9"/>
<text x="322.60" y="203.50" font-size="6.0" font-weight="bold" text-anchor="end" fill="#000" xml:space="preserve" stroke-width="0.3">600</text>
<line x1="323.00" y1="192.30" x2="325.80" y2="192.30" stroke="#000" stroke-width="0.9"/>
<text x="322.60" y="194.40" font-size="6.0" font-weight="bold" text-anchor="end" fill="#000" xml:space="preserve" stroke-width="0.3">800</text>
<text x="297.30" y="204.60" font-size="8.5" font-weight="normal" text-anchor="middle" fill="#000" transform="rotate(-90 297.30 204.60)" xml:space="preserve">IFNγ (No. of</text>
<text x="307.20" y="204.80" font-size="8.7" font-weight="normal" text-anchor="middle" fill="#000" transform="rotate(-90 307.20 204.80)" xml:space="preserve">spots  ±SEM)</text>
<rect x="350.10" y="238.40" width="6.50" height="2.70" fill="#a6a6a6" stroke="#000" stroke-width="0.6"/>
<circle cx="351.90" cy="238.20" r="0.95" fill="#000" stroke="none" stroke-width="0.5"/>
<circle cx="355.10" cy="238.30" r="0.95" fill="#000" stroke="none" stroke-width="0.5"/>
<circle cx="353.50" cy="237.50" r="0.95" fill="#000" stroke="none" stroke-width="0.5"/>
<polygon points="333.50,250.30 352.30,250.30 352.30,245.50" fill="#000" stroke="none" stroke-width="0.5"/>
<rect x="387.30" y="238.20" width="6.50" height="2.90" fill="#a6a6a6" stroke="#000" stroke-width="0.6"/>
<circle cx="389.10" cy="238.00" r="0.95" fill="#000" stroke="none" stroke-width="0.5"/>
<circle cx="392.30" cy="238.10" r="0.95" fill="#000" stroke="none" stroke-width="0.5"/>
<circle cx="390.70" cy="237.30" r="0.95" fill="#000" stroke="none" stroke-width="0.5"/>
<polygon points="370.30,250.30 389.10,250.30 389.10,245.50" fill="#000" stroke="none" stroke-width="0.5"/>
<rect x="424.50" y="234.80" width="6.50" height="6.30" fill="#a6a6a6" stroke="#000" stroke-width="0.6"/>
<circle cx="426.30" cy="234.60" r="0.95" fill="#000" stroke="none" stroke-width="0.5"/>
<circle cx="429.50" cy="234.70" r="0.95" fill="#000" stroke="none" stroke-width="0.5"/>
<circle cx="427.90" cy="233.90" r="0.95" fill="#000" stroke="none" stroke-width="0.5"/>
<circle cx="425.50" cy="232.30" r="0.8" fill="#000" stroke="none" stroke-width="0.5"/>
<polygon points="407.10,250.30 425.90,250.30 425.90,245.50" fill="#000" stroke="none" stroke-width="0.5"/>
<polygon points="443.90,250.30 462.70,250.30 462.70,245.50" fill="#000" stroke="none" stroke-width="0.5"/>
<rect x="478.40" y="198.00" width="6.40" height="43.10" fill="#a6a6a6" stroke="none" stroke-width="0.6"/>
<line x1="478.40" y1="198.00" x2="478.40" y2="241.10" stroke="#000" stroke-width="0.6"/>
<line x1="484.80" y1="198.00" x2="484.80" y2="241.10" stroke="#000" stroke-width="0.6"/>
<rect x="478.40" y="190.60" width="6.40" height="3.10" fill="#a6a6a6" stroke="none" stroke-width="0.6"/>
<line x1="478.40" y1="190.60" x2="478.40" y2="193.70" stroke="#000" stroke-width="0.6"/>
<line x1="484.80" y1="190.60" x2="484.80" y2="193.70" stroke="#000" stroke-width="0.6"/>
<line x1="478.10" y1="190.60" x2="485.10" y2="190.60" stroke="#000" stroke-width="0.6"/>
<rect x="478.70" y="189.30" width="5.80" height="2.40" fill="#000" stroke="none" stroke-width="0.6" rx="1.1"/>
<polygon points="481.60,187.77 480.30,190.24 482.90,190.24" fill="#000" stroke="none" stroke-width="0.5"/>
<rect x="495.40" y="198.00" width="6.40" height="43.10" fill="#a6a6a6" stroke="none" stroke-width="0.6"/>
<line x1="495.40" y1="198.00" x2="495.40" y2="241.10" stroke="#000" stroke-width="0.6"/>
<line x1="501.80" y1="198.00" x2="501.80" y2="241.10" stroke="#000" stroke-width="0.6"/>
<rect x="495.40" y="191.60" width="6.40" height="2.10" fill="#a6a6a6" stroke="none" stroke-width="0.6"/>
<line x1="495.40" y1="191.60" x2="495.40" y2="193.70" stroke="#000" stroke-width="0.6"/>
<line x1="501.80" y1="191.60" x2="501.80" y2="193.70" stroke="#000" stroke-width="0.6"/>
<line x1="495.10" y1="191.60" x2="502.10" y2="191.60" stroke="#000" stroke-width="0.6"/>
<rect x="495.70" y="190.30" width="5.80" height="2.40" fill="#000" stroke="none" stroke-width="0.6" rx="1.1"/>
<polygon points="498.60,188.77 497.30,191.24 499.90,191.24" fill="#000" stroke="none" stroke-width="0.5"/>
<rect x="512.40" y="198.00" width="6.40" height="43.10" fill="#a6a6a6" stroke="none" stroke-width="0.6"/>
<line x1="512.40" y1="198.00" x2="512.40" y2="241.10" stroke="#000" stroke-width="0.6"/>
<line x1="518.80" y1="198.00" x2="518.80" y2="241.10" stroke="#000" stroke-width="0.6"/>
<rect x="512.40" y="188.80" width="6.40" height="4.90" fill="#a6a6a6" stroke="none" stroke-width="0.6"/>
<line x1="512.40" y1="188.80" x2="512.40" y2="193.70" stroke="#000" stroke-width="0.6"/>
<line x1="518.80" y1="188.80" x2="518.80" y2="193.70" stroke="#000" stroke-width="0.6"/>
<line x1="512.10" y1="188.80" x2="519.10" y2="188.80" stroke="#000" stroke-width="0.6"/>
<rect x="512.70" y="187.50" width="5.80" height="2.40" fill="#000" stroke="none" stroke-width="0.6" rx="1.1"/>
<polygon points="515.60,185.97 514.30,188.44 516.90,188.44" fill="#000" stroke="none" stroke-width="0.5"/>
<rect x="529.40" y="198.00" width="6.40" height="43.10" fill="#a6a6a6" stroke="none" stroke-width="0.6"/>
<line x1="529.40" y1="198.00" x2="529.40" y2="241.10" stroke="#000" stroke-width="0.6"/>
<line x1="535.80" y1="198.00" x2="535.80" y2="241.10" stroke="#000" stroke-width="0.6"/>
<rect x="529.40" y="188.30" width="6.40" height="5.40" fill="#a6a6a6" stroke="none" stroke-width="0.6"/>
<line x1="529.40" y1="188.30" x2="529.40" y2="193.70" stroke="#000" stroke-width="0.6"/>
<line x1="535.80" y1="188.30" x2="535.80" y2="193.70" stroke="#000" stroke-width="0.6"/>
<line x1="529.10" y1="188.30" x2="536.10" y2="188.30" stroke="#000" stroke-width="0.6"/>
<rect x="529.70" y="187.00" width="5.80" height="2.40" fill="#000" stroke="none" stroke-width="0.6" rx="1.1"/>
<polygon points="532.60,185.47 531.30,187.94 533.90,187.94" fill="#000" stroke="none" stroke-width="0.5"/>
<line x1="325.40" y1="241.45" x2="539.80" y2="241.45" stroke="#000" stroke-width="0.9"/>
<circle cx="331.08" cy="240.75" r="1.15" fill="#000" stroke="none" stroke-width="0.5"/>
<circle cx="332.90" cy="240.75" r="1.15" fill="#000" stroke="none" stroke-width="0.5"/>
<circle cx="334.72" cy="240.75" r="1.15" fill="#000" stroke="none" stroke-width="0.5"/>
<circle cx="341.11" cy="240.75" r="1.15" fill="#000" stroke="none" stroke-width="0.5"/>
<circle cx="343.00" cy="240.75" r="1.15" fill="#000" stroke="none" stroke-width="0.5"/>
<circle cx="344.89" cy="240.75" r="1.15" fill="#000" stroke="none" stroke-width="0.5"/>
<circle cx="368.28" cy="240.75" r="1.15" fill="#000" stroke="none" stroke-width="0.5"/>
<circle cx="370.10" cy="240.75" r="1.15" fill="#000" stroke="none" stroke-width="0.5"/>
<circle cx="371.92" cy="240.75" r="1.15" fill="#000" stroke="none" stroke-width="0.5"/>
<circle cx="378.31" cy="240.75" r="1.15" fill="#000" stroke="none" stroke-width="0.5"/>
<circle cx="380.20" cy="240.75" r="1.15" fill="#000" stroke="none" stroke-width="0.5"/>
<circle cx="382.09" cy="240.75" r="1.15" fill="#000" stroke="none" stroke-width="0.5"/>
<circle cx="405.48" cy="240.75" r="1.15" fill="#000" stroke="none" stroke-width="0.5"/>
<circle cx="407.30" cy="240.75" r="1.15" fill="#000" stroke="none" stroke-width="0.5"/>
<circle cx="409.12" cy="240.75" r="1.15" fill="#000" stroke="none" stroke-width="0.5"/>
<circle cx="415.51" cy="240.75" r="1.15" fill="#000" stroke="none" stroke-width="0.5"/>
<circle cx="417.40" cy="240.75" r="1.15" fill="#000" stroke="none" stroke-width="0.5"/>
<circle cx="419.29" cy="240.75" r="1.15" fill="#000" stroke="none" stroke-width="0.5"/>
<circle cx="442.68" cy="240.75" r="1.15" fill="#000" stroke="none" stroke-width="0.5"/>
<circle cx="444.50" cy="240.75" r="1.15" fill="#000" stroke="none" stroke-width="0.5"/>
<circle cx="446.32" cy="240.75" r="1.15" fill="#000" stroke="none" stroke-width="0.5"/>
<circle cx="452.71" cy="240.75" r="1.15" fill="#000" stroke="none" stroke-width="0.5"/>
<circle cx="454.60" cy="240.75" r="1.15" fill="#000" stroke="none" stroke-width="0.5"/>
<circle cx="456.49" cy="240.75" r="1.15" fill="#000" stroke="none" stroke-width="0.5"/>
<circle cx="462.43" cy="240.75" r="1.15" fill="#000" stroke="none" stroke-width="0.5"/>
<circle cx="464.60" cy="240.75" r="1.15" fill="#000" stroke="none" stroke-width="0.5"/>
<circle cx="466.77" cy="240.75" r="1.15" fill="#000" stroke="none" stroke-width="0.5"/>
<text x="345.90" y="257.00" font-size="10.4" font-weight="normal" text-anchor="end" fill="#000" transform="rotate(-90 345.90 257.00)" xml:space="preserve">Pulmonary fibroblast</text>
<text x="382.80" y="257.00" font-size="10.4" font-weight="normal" text-anchor="end" fill="#000" transform="rotate(-90 382.80 257.00)" xml:space="preserve">Cardiac myocyte</text>
<text x="419.30" y="257.00" font-size="10.4" font-weight="normal" text-anchor="end" fill="#000" transform="rotate(-90 419.30 257.00)" xml:space="preserve">Cardiac smooth muscle</text>
<text x="457.30" y="257.00" font-size="10.4" font-weight="normal" text-anchor="end" fill="#000" transform="rotate(-90 457.30 257.00)" xml:space="preserve">Aortic endothelial</text>
<text x="484.80" y="244.20" font-size="10.4" font-weight="normal" text-anchor="end" fill="#000" transform="rotate(-90 484.80 244.20)" xml:space="preserve">Pulmonary fibroblast</text>
<text x="502.50" y="244.20" font-size="10.4" font-weight="normal" text-anchor="end" fill="#000" transform="rotate(-90 502.50 244.20)" xml:space="preserve">Cardiac myocyte</text>
<text x="519.20" y="244.20" font-size="10.4" font-weight="normal" text-anchor="end" fill="#000" transform="rotate(-90 519.20 244.20)" xml:space="preserve">Cardiac smooth muscle</text>
<text x="536.60" y="244.20" font-size="10.4" font-weight="normal" text-anchor="end" fill="#000" transform="rotate(-90 536.60 244.20)" xml:space="preserve">Aortic endothelial</text>
<line x1="334.10" y1="379.80" x2="465.20" y2="379.80" stroke="#000" stroke-width="1.4"/>
<line x1="480.40" y1="379.80" x2="534.10" y2="379.80" stroke="#000" stroke-width="1.4"/>
<text x="379.80" y="396.00" font-size="10.2" font-weight="normal" text-anchor="start" fill="#000" xml:space="preserve">KRAS<tspan dy="-2.78" font-size="6.73" stroke-width="0.08">WT</tspan></text>
<text x="489.60" y="396.00" font-size="10.1" font-weight="normal" text-anchor="start" fill="#000" xml:space="preserve">+ G12D</text>
<line x1="585.40" y1="182.00" x2="585.40" y2="240.90" stroke="#000" stroke-width="0.9"/>
<line x1="585.00" y1="240.50" x2="660.30" y2="240.50" stroke="#000" stroke-width="0.9"/>
<line x1="660.30" y1="238.70" x2="660.30" y2="242.30" stroke="#000" stroke-width="0.6"/>
<line x1="663.50" y1="240.50" x2="673.20" y2="240.50" stroke="#000" stroke-width="0.9"/>
<line x1="663.50" y1="238.70" x2="663.50" y2="242.30" stroke="#000" stroke-width="0.6"/>
<line x1="582.60" y1="240.50" x2="585.40" y2="240.50" stroke="#000" stroke-width="0.9"/>
<text x="582.20" y="242.60" font-size="6.1" font-weight="bold" text-anchor="end" fill="#000" xml:space="preserve" stroke-width="0.3">0</text>
<line x1="582.60" y1="226.15" x2="585.40" y2="226.15" stroke="#000" stroke-width="0.9"/>
<text x="582.20" y="228.25" font-size="6.1" font-weight="bold" text-anchor="end" fill="#000" xml:space="preserve" stroke-width="0.3">25</text>
<line x1="582.60" y1="211.80" x2="585.40" y2="211.80" stroke="#000" stroke-width="0.9"/>
<text x="582.20" y="213.90" font-size="6.1" font-weight="bold" text-anchor="end" fill="#000" xml:space="preserve" stroke-width="0.3">50</text>
<line x1="582.60" y1="197.45" x2="585.40" y2="197.45" stroke="#000" stroke-width="0.9"/>
<text x="582.20" y="199.55" font-size="6.1" font-weight="bold" text-anchor="end" fill="#000" xml:space="preserve" stroke-width="0.3">75</text>
<line x1="582.60" y1="183.10" x2="585.40" y2="183.10" stroke="#000" stroke-width="0.9"/>
<text x="582.20" y="185.20" font-size="6.1" font-weight="bold" text-anchor="end" fill="#000" xml:space="preserve" stroke-width="0.3">100</text>
<text x="568.20" y="205.30" font-size="8.5" font-weight="normal" text-anchor="middle" fill="#000" transform="rotate(-90 568.20 205.30)" xml:space="preserve">% cytolysis</text>
<text x="634.20" y="270.10" font-size="8.4" font-weight="normal" text-anchor="middle" fill="#000" xml:space="preserve">[IMC-KRAS<tspan dy="-2.22" font-size="5.71" stroke-width="0.08">G12D</tspan><tspan dy="2.22">] M</tspan></text>
<text x="591.20" y="253.00" font-size="5.8" font-weight="bold" text-anchor="middle" fill="#000" xml:space="preserve" stroke-width="0.3">Cont.</text>
<text x="669.60" y="253.00" font-size="5.5" font-weight="bold" text-anchor="middle" fill="#000" xml:space="preserve" stroke-width="0.3">+G12D</text>
<text x="607.00" y="250.80" font-size="7.0" font-weight="bold" text-anchor="middle" fill="#000" xml:space="preserve" stroke-width="0.3">-11</text>
<text x="625.40" y="250.80" font-size="7.0" font-weight="bold" text-anchor="middle" fill="#000" xml:space="preserve" stroke-width="0.3">-10</text>
<text x="643.60" y="250.80" font-size="7.0" font-weight="bold" text-anchor="middle" fill="#000" xml:space="preserve" stroke-width="0.3">-9</text>
<line x1="590.50" y1="172.60" x2="600.00" y2="172.60" stroke="#ff0000" stroke-width="1.0"/>
<circle cx="595.00" cy="172.60" r="2.0" fill="#ff0000" stroke="none" stroke-width="0.5"/>
<line x1="590.50" y1="186.90" x2="600.00" y2="186.90" stroke="#000" stroke-width="1.0"/>
<circle cx="595.00" cy="186.90" r="2.0" fill="#000" stroke="none" stroke-width="0.5"/>
<text x="607.20" y="178.30" font-size="8.45" font-weight="normal" text-anchor="start" fill="#000" xml:space="preserve">CL40 (KRAS<tspan dy="-2.74" font-size="5.75" stroke-width="0.08">G12D</tspan><tspan dy="2.74">)</tspan></text>
<text x="607.20" y="188.80" font-size="8.45" font-weight="normal" text-anchor="start" fill="#000" xml:space="preserve">Normal Colon</text>
<polygon points="609.00,240.00 620.00,238.90 657.00,238.50 657.00,241.20 620.00,241.00 609.00,240.90" fill="#a8a8a8" stroke="none" stroke-width="0.5"/>
<path d="M600.5 240.4 L609.5 239.6 L618.2 239.5 L653.7 239.2" stroke="#000" stroke-width="0.8" fill="none"/>
<circle cx="600.50" cy="240.40" r="1.25" fill="#000" stroke="none" stroke-width="0.5"/>
<line x1="609.50" y1="241.30" x2="609.50" y2="237.70" stroke="#000" stroke-width="0.7"/>
<line x1="608.40" y1="241.30" x2="610.60" y2="241.30" stroke="#000" stroke-width="0.7"/>
<line x1="608.40" y1="237.70" x2="610.60" y2="237.70" stroke="#000" stroke-width="0.7"/>
<circle cx="609.50" cy="239.50" r="1.25" fill="#000" stroke="none" stroke-width="0.5"/>
<line x1="618.20" y1="241.20" x2="618.20" y2="238.00" stroke="#000" stroke-width="0.7"/>
<line x1="617.10" y1="241.20" x2="619.30" y2="241.20" stroke="#000" stroke-width="0.7"/>
<line x1="617.10" y1="238.00" x2="619.30" y2="238.00" stroke="#000" stroke-width="0.7"/>
<circle cx="618.20" cy="239.60" r="1.25" fill="#000" stroke="none" stroke-width="0.5"/>
<line x1="627.10" y1="240.50" x2="627.10" y2="238.90" stroke="#000" stroke-width="0.7"/>
<line x1="626.00" y1="240.50" x2="628.20" y2="240.50" stroke="#000" stroke-width="0.7"/>
<line x1="626.00" y1="238.90" x2="628.20" y2="238.90" stroke="#000" stroke-width="0.7"/>
<circle cx="627.10" cy="239.70" r="1.25" fill="#000" stroke="none" stroke-width="0.5"/>
<line x1="636.00" y1="240.50" x2="636.00" y2="238.90" stroke="#000" stroke-width="0.7"/>
<line x1="634.90" y1="240.50" x2="637.10" y2="240.50" stroke="#000" stroke-width="0.7"/>
<line x1="634.90" y1="238.90" x2="637.10" y2="238.90" stroke="#000" stroke-width="0.7"/>
<circle cx="636.00" cy="239.70" r="1.25" fill="#000" stroke="none" stroke-width="0.5"/>
<line x1="644.60" y1="240.60" x2="644.60" y2="235.50" stroke="#000" stroke-width="0.7"/>
<line x1="643.50" y1="240.60" x2="645.70" y2="240.60" stroke="#000" stroke-width="0.7"/>
<line x1="643.50" y1="235.50" x2="645.70" y2="235.50" stroke="#000" stroke-width="0.7"/>
<circle cx="644.60" cy="238.80" r="1.25" fill="#000" stroke="none" stroke-width="0.5"/>
<line x1="653.70" y1="240.80" x2="653.70" y2="236.10" stroke="#000" stroke-width="0.7"/>
<line x1="652.60" y1="240.80" x2="654.80" y2="240.80" stroke="#000" stroke-width="0.7"/>
<line x1="652.60" y1="236.10" x2="654.80" y2="236.10" stroke="#000" stroke-width="0.7"/>
<circle cx="653.70" cy="239.00" r="1.25" fill="#000" stroke="none" stroke-width="0.5"/>
<path d="M600.50 238.66 L601.39 238.43 L602.27 238.18 L603.16 237.89 L604.05 237.57 L604.93 237.22 L605.82 236.83 L606.71 236.39 L607.59 235.91 L608.48 235.38 L609.37 234.79 L610.25 234.15 L611.14 233.45 L612.03 232.69 L612.91 231.86 L613.80 230.97 L614.69 230.01 L615.57 228.99 L616.46 227.90 L617.35 226.75 L618.23 225.54 L619.12 224.28 L620.01 222.98 L620.89 221.63 L621.78 220.26 L622.67 218.86 L623.55 217.46 L624.44 216.05 L625.33 214.66 L626.21 213.29 L627.10 211.95 L627.99 210.64 L628.87 209.39 L629.76 208.19 L630.65 207.04 L631.53 205.96 L632.42 204.95 L633.31 204.00 L634.19 203.11 L635.08 202.29 L635.97 201.54 L636.85 200.85 L637.74 200.21 L638.63 199.64 L639.51 199.11 L640.40 198.63 L641.29 198.20 L642.17 197.82 L643.06 197.47 L643.95 197.15 L644.83 196.87 L645.72 196.62 L646.61 196.39 L647.49 196.19 L648.38 196.01 L649.27 195.85 L650.15 195.71 L651.04 195.58 L651.93 195.47 L652.81 195.37 L653.70 195.28" stroke="#ff0000" stroke-width="0.9" fill="none"/>
<line x1="600.50" y1="239.58" x2="600.50" y2="229.25" stroke="#ff0000" stroke-width="0.7"/>
<line x1="599.40" y1="239.58" x2="601.60" y2="239.58" stroke="#ff0000" stroke-width="0.7"/>
<line x1="599.40" y1="229.25" x2="601.60" y2="229.25" stroke="#ff0000" stroke-width="0.7"/>
<circle cx="600.50" cy="234.42" r="1.25" fill="#ff0000" stroke="none" stroke-width="0.5"/>
<line x1="609.50" y1="240.50" x2="609.50" y2="234.76" stroke="#ff0000" stroke-width="0.7"/>
<line x1="608.40" y1="240.50" x2="610.60" y2="240.50" stroke="#ff0000" stroke-width="0.7"/>
<line x1="608.40" y1="234.76" x2="610.60" y2="234.76" stroke="#ff0000" stroke-width="0.7"/>
<circle cx="609.50" cy="237.63" r="1.25" fill="#ff0000" stroke="none" stroke-width="0.5"/>
<line x1="618.20" y1="227.30" x2="618.20" y2="223.85" stroke="#ff0000" stroke-width="0.7"/>
<line x1="617.10" y1="227.30" x2="619.30" y2="227.30" stroke="#ff0000" stroke-width="0.7"/>
<line x1="617.10" y1="223.85" x2="619.30" y2="223.85" stroke="#ff0000" stroke-width="0.7"/>
<circle cx="618.20" cy="225.58" r="1.25" fill="#ff0000" stroke="none" stroke-width="0.5"/>
<line x1="627.10" y1="213.24" x2="627.10" y2="204.62" stroke="#ff0000" stroke-width="0.7"/>
<line x1="626.00" y1="213.24" x2="628.20" y2="213.24" stroke="#ff0000" stroke-width="0.7"/>
<line x1="626.00" y1="204.62" x2="628.20" y2="204.62" stroke="#ff0000" stroke-width="0.7"/>
<circle cx="627.10" cy="208.93" r="1.25" fill="#ff0000" stroke="none" stroke-width="0.5"/>
<line x1="636.00" y1="206.63" x2="636.00" y2="198.02" stroke="#ff0000" stroke-width="0.7"/>
<line x1="634.90" y1="206.63" x2="637.10" y2="206.63" stroke="#ff0000" stroke-width="0.7"/>
<line x1="634.90" y1="198.02" x2="637.10" y2="198.02" stroke="#ff0000" stroke-width="0.7"/>
<circle cx="636.00" cy="202.33" r="1.25" fill="#ff0000" stroke="none" stroke-width="0.5"/>
<line x1="644.60" y1="202.04" x2="644.60" y2="196.30" stroke="#ff0000" stroke-width="0.7"/>
<line x1="643.50" y1="202.04" x2="645.70" y2="202.04" stroke="#ff0000" stroke-width="0.7"/>
<line x1="643.50" y1="196.30" x2="645.70" y2="196.30" stroke="#ff0000" stroke-width="0.7"/>
<circle cx="644.60" cy="199.17" r="1.25" fill="#ff0000" stroke="none" stroke-width="0.5"/>
<circle cx="653.70" cy="194.58" r="1.25" fill="#ff0000" stroke="none" stroke-width="0.5"/>
<line x1="587.60" y1="240.40" x2="587.60" y2="236.00" stroke="#ff0000" stroke-width="0.7"/>
<line x1="586.80" y1="240.40" x2="588.40" y2="240.40" stroke="#ff0000" stroke-width="0.7"/>
<line x1="586.80" y1="236.00" x2="588.40" y2="236.00" stroke="#ff0000" stroke-width="0.7"/>
<circle cx="587.60" cy="239.30" r="1.0" fill="#ff0000" stroke="none" stroke-width="0.5"/>
<line x1="591.20" y1="240.40" x2="591.20" y2="235.00" stroke="#ff0000" stroke-width="0.7"/>
<line x1="590.40" y1="240.40" x2="592.00" y2="240.40" stroke="#ff0000" stroke-width="0.7"/>
<line x1="590.40" y1="235.00" x2="592.00" y2="235.00" stroke="#ff0000" stroke-width="0.7"/>
<circle cx="591.20" cy="236.60" r="1.0" fill="#ff0000" stroke="none" stroke-width="0.5"/>
<circle cx="587.60" cy="235.40" r="1.0" fill="#000" stroke="none" stroke-width="0.5"/>
<line x1="591.20" y1="240.40" x2="591.20" y2="237.50" stroke="#000" stroke-width="0.7"/>
<line x1="590.40" y1="240.40" x2="592.00" y2="240.40" stroke="#000" stroke-width="0.7"/>
<line x1="590.40" y1="237.50" x2="592.00" y2="237.50" stroke="#000" stroke-width="0.7"/>
<circle cx="591.20" cy="239.20" r="1.0" fill="#000" stroke="none" stroke-width="0.5"/>
<circle cx="669.20" cy="185.80" r="1.2" fill="#ff0000" stroke="none" stroke-width="0.5"/>
<line x1="669.40" y1="207.20" x2="669.40" y2="194.80" stroke="#000" stroke-width="0.7"/>
<line x1="668.20" y1="207.20" x2="670.60" y2="207.20" stroke="#000" stroke-width="0.7"/>
<line x1="668.20" y1="194.80" x2="670.60" y2="194.80" stroke="#000" stroke-width="0.7"/>
<circle cx="669.40" cy="200.90" r="1.2" fill="#000" stroke="none" stroke-width="0.5"/>
</svg>
</body></html>
